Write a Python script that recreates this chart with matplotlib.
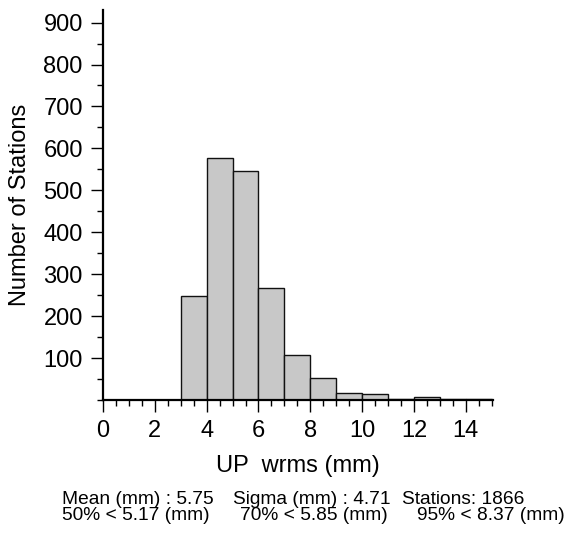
import numpy as np
import matplotlib
matplotlib.use("Agg")
import matplotlib.pyplot as plt
from matplotlib.ticker import MultipleLocator

plt.rcParams['font.family'] = ['Liberation Sans', 'DejaVu Sans']

# histogram of UP wrms, 1 mm bins
bin_left = [3, 4, 5, 6, 7, 8, 9, 10, 11, 12, 13, 14]
counts = [248, 576, 547, 266, 107, 52, 16, 14, 2, 6, 3, 3]

stats_line1 = ["Mean (mm) : 5.75", "Sigma (mm) : 4.71", "Stations: 1866"]
stats_line2 = ["50% < 5.17 (mm)", "70% < 5.85 (mm)", "95% < 8.37 (mm)"]

fig = plt.figure(figsize=(5.67, 5.35), dpi=100)
ax = fig.add_axes([103 / 567, 1 - 400 / 535, 390 / 567, 390 / 535])

ax.bar(bin_left, counts, width=1.0, align='edge', color='#c8c8c8',
       edgecolor='#111111', linewidth=1.0)

ax.set_xlim(0, 15.05)
ax.set_ylim(0, 930)
ax.xaxis.set_major_locator(MultipleLocator(2))
ax.xaxis.set_minor_locator(MultipleLocator(0.5))
ax.set_yticks(np.arange(100, 901, 100))
ax.yaxis.set_minor_locator(MultipleLocator(50))

for s in ['top', 'right']:
    ax.spines[s].set_visible(False)
for s in ['left', 'bottom']:
    ax.spines[s].set_linewidth(1.6)

ax.tick_params(axis='both', which='major', direction='out', length=8.5,
               width=1.0, labelsize=17)
ax.tick_params(axis='both', which='minor', direction='out', length=4.5,
               width=1.0)
ax.tick_params(axis='x', which='major', pad=6)
ax.tick_params(axis='y', which='major', pad=6)

ax.set_ylabel("Number of Stations", fontsize=17, labelpad=9)
ax.set_xlabel("UP  wrms (mm)", fontsize=17, labelpad=9)

col_x1 = [62, 233, 402]
col_x2 = [62, 240, 417]
for x, t in zip(col_x1, stats_line1):
    fig.text(x / 567, 1 - 499 / 535, t, fontsize=13.8, ha='left', va='center')
for x, t in zip(col_x2, stats_line2):
    fig.text(x / 567, 1 - 515 / 535, t, fontsize=13.8, ha='left', va='center')

fig.savefig("out.png", dpi=100)
